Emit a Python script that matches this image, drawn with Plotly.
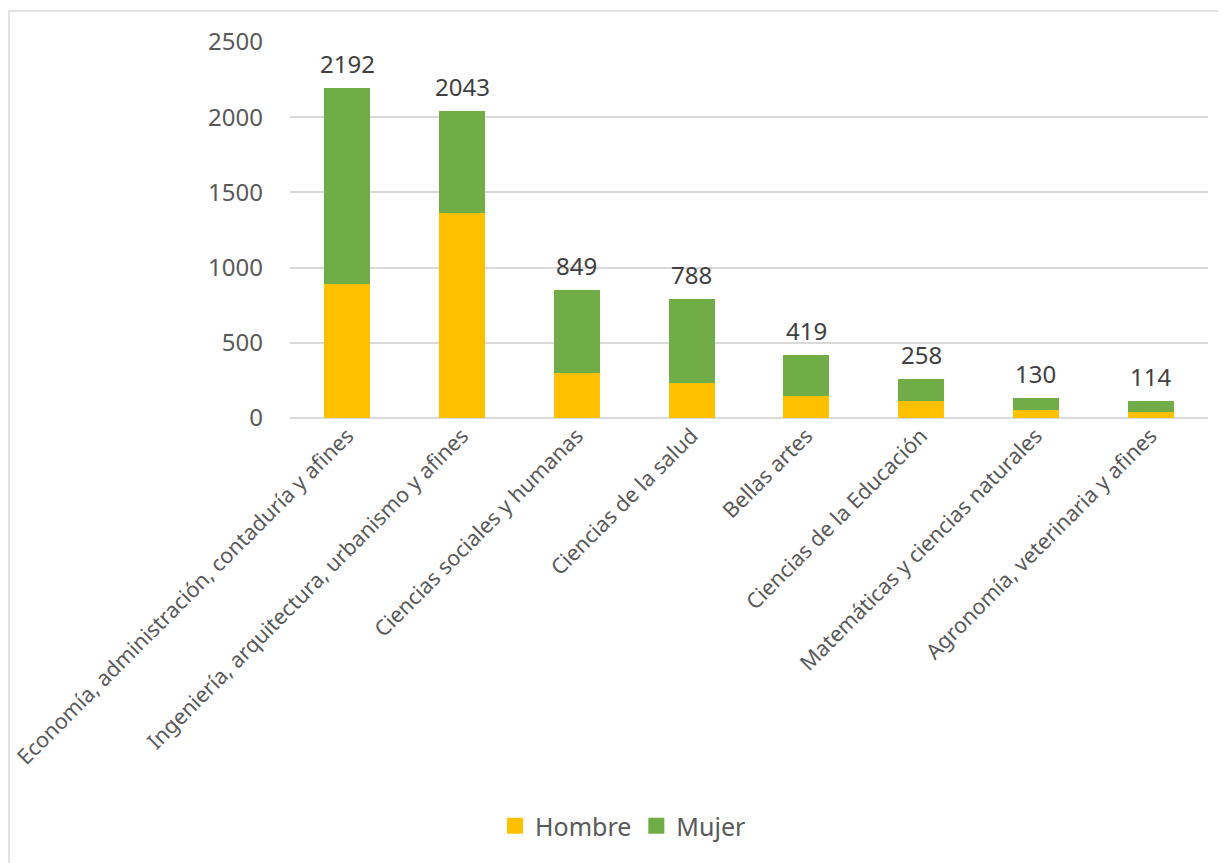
import plotly.graph_objects as go

categories = [
    "Economía, administración, contaduría y afines",
    "Ingeniería, arquitectura, urbanismo y afines",
    "Ciencias sociales y humanas",
    "Ciencias de la salud",
    "Bellas artes",
    "Ciencias de la Educación",
    "Matemáticas y ciencias naturales",
    "Agronomía, veterinaria y afines",
]
totals = [2192, 2043, 849, 788, 419, 258, 130, 114]
hombre = [890, 1365, 300, 233, 149, 111, 56, 42]
mujer = [t - h for t, h in zip(totals, hombre)]
y_ticks = [0, 500, 1000, 1500, 2000, 2500]

FONT = "Noto Sans"
C_H, C_M = "#FFC000", "#70AD47"
fig = go.Figure()
fig.add_trace(go.Bar(x=categories, y=hombre, name="Hombre", marker_color=C_H,
                     marker_line_width=0, showlegend=False))
fig.add_trace(go.Bar(x=categories, y=mujer, name="Mujer", marker_color=C_M,
                     marker_line_width=0, showlegend=False))
# legend entries with larger square symbols
for nm, c in (("Hombre", C_H), ("Mujer", C_M)):
    fig.add_trace(go.Scatter(x=[None], y=[None], mode="markers", name=nm,
                             marker=dict(symbol="square", size=16, color=c)))

for c, t in zip(categories, totals):
    fig.add_annotation(x=c, y=t, text=str(t), showarrow=False, yanchor="bottom", yshift=6,
                       font=dict(family=FONT, size=24, color="#404040"))

# page body has an 8px margin; figure is placed at (8, 8)
OFF = 8
W, H = 1226 - OFF, 863 - OFF
L, R, T, B = 290 - OFF, 18, 42 - OFF, 445
pw, ph = W - L - R, H - T - B

def px(x):
    return (x - OFF - L) / pw

def py(y):
    return (H - B - (y - OFF)) / ph

fig.add_shape(type="rect", xref="paper", yref="paper",
              x0=px(9), x1=px(1240), y0=py(880), y1=py(11),
              line=dict(color="#d9d9d9", width=1.5), fillcolor="rgba(0,0,0,0)", layer="below")

fig.update_layout(
    width=W, height=H,
    margin=dict(l=L, r=R, t=T, b=B, autoexpand=False),
    barmode="stack", bargap=0.6,
    plot_bgcolor="white", paper_bgcolor="white",
    font=dict(family=FONT, color="#595959"),
    legend=dict(orientation="h", x=px(623), xanchor="center", y=py(826), yanchor="middle",
                font=dict(size=25, color="#595959"), traceorder="normal"),
    xaxis=dict(tickangle=-45, tickfont=dict(size=21.5, color="#595959"), showgrid=False,
               showline=False, ticks=""),
    yaxis=dict(range=[0, 2500], tickvals=y_ticks, tickfont=dict(size=24, color="#595959"),
               showgrid=True, gridcolor="#d9d9d9", gridwidth=1.5, zeroline=True,
               zerolinecolor="#d9d9d9", zerolinewidth=1.5, showline=False, ticks="",
               ticklabelstandoff=26),
)

fig.write_html("out.html")
